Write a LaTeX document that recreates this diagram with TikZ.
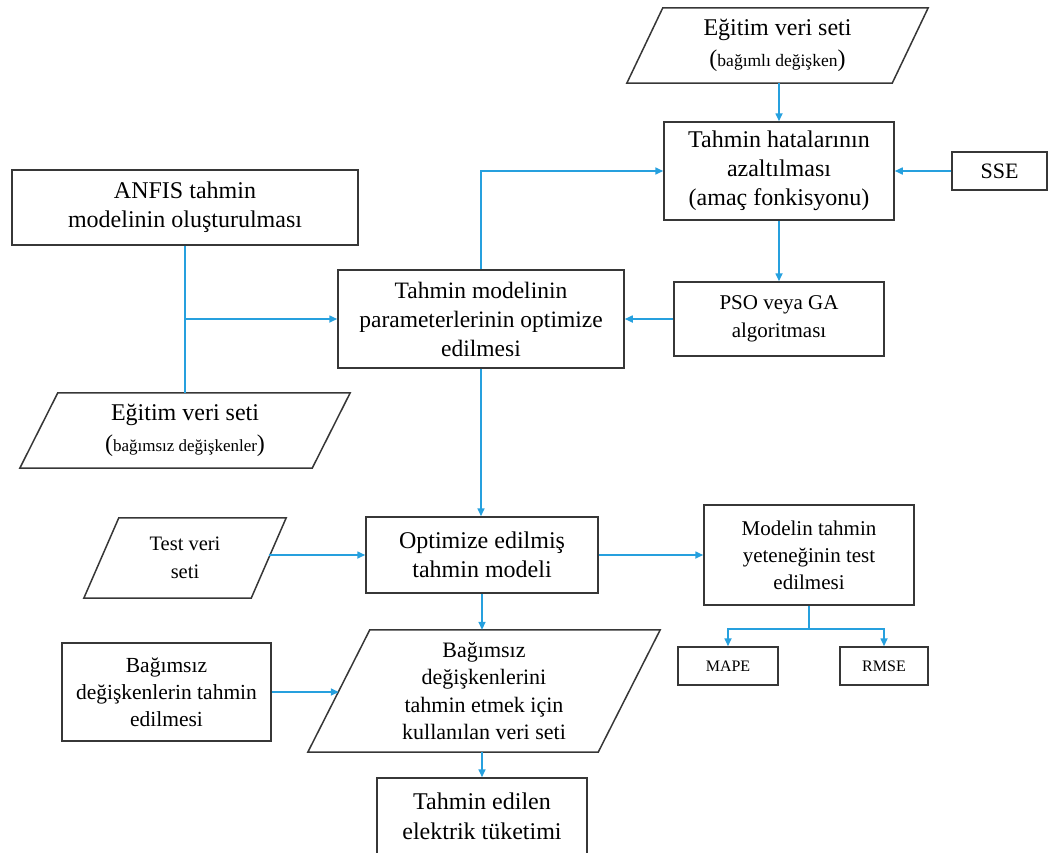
\documentclass[tikz,border=0pt]{standalone}
\usepackage{fontspec}
\setmainfont{Liberation Serif}
\usetikzlibrary{arrows.meta,calc}
\definecolor{flow}{RGB}{38,160,222}
\definecolor{frame}{RGB}{55,55,55}
\newcommand{\fs}[2]{\fontsize{#1}{#2}\selectfont}
% outline of a data (parallelogram) node: #1 node name, #2 horizontal slant
\newcommand{\slantframe}[2]{\draw[frameline] ([xshift=#2]#1.north west) -- (#1.north east) -- ([xshift=-#2]#1.south east) -- (#1.south west) -- cycle;}
\tikzset{
  frameline/.style={draw=frame, line width=1.5pt, line join=miter},
  box/.style={draw=frame, line width=1.5pt, rectangle, align=center, inner sep=0pt},
  slab/.style={rectangle, align=center, inner sep=0pt},
  link/.style={draw=flow, line width=1.6pt, -{Triangle[length=8pt,width=7pt]}},
  plain/.style={draw=flow, line width=1.6pt},
}
\begin{document}
\begin{tikzpicture}[x=1pt, y=-1pt]
\useasboundingbox (0,0) rectangle (1049,852);

% ---- training data (dependent variable) and objective ----
\node[slab, minimum width=301pt, minimum height=75pt, font=\fs{24}{31}] (p1) at (777.5,45.5)
  {Eğitim veri seti\\{\fs{24}{31}(}{\fs{17.5}{31}bağımlı değişken}{\fs{24}{31})}};
\slantframe{p1}{36pt}

\node[box, minimum width=230pt, minimum height=98pt, font=\fs{24}{29}] (hata) at (779,171)
  {Tahmin hatalarının\\azaltılması\\(amaç fonkisyonu)};

\node[box, minimum width=95pt, minimum height=38pt, font=\fs{22}{26}] (sse) at (999.5,171) {SSE};

% ---- model construction and optimisation ----
\node[box, minimum width=346pt, minimum height=75pt, font=\fs{24}{29}] (anfis) at (185,207.5)
  {ANFIS tahmin\\modelinin oluşturulması};

\node[box, minimum width=286pt, minimum height=98pt, font=\fs{23.5}{29}] (param) at (481,319)
  {Tahmin modelinin\\parameterlerinin optimize\\edilmesi};

\node[box, minimum width=210pt, minimum height=74pt, font=\fs{21}{28}] (pso) at (779,319)
  {PSO veya GA\\algoritması};

\node[slab, minimum width=330pt, minimum height=75pt, font=\fs{24}{31}] (p2) at (185,430.5)
  {Eğitim veri seti\\{\fs{24}{31}(}{\fs{17}{31}bağımsız değişkenler}{\fs{24}{31})}};
\slantframe{p2}{38pt}

% ---- testing ----
\node[slab, minimum width=202pt, minimum height=80pt, font=\fs{20.5}{28}] (test) at (185,558)
  {Test veri\\seti};
\slantframe{test}{35pt}

\node[box, minimum width=232pt, minimum height=76pt, font=\fs{24}{29}] (opt) at (482,555)
  {Optimize edilmiş\\tahmin modeli};

\node[box, minimum width=210pt, minimum height=100pt, font=\fs{21}{27}] (mod) at (809,555)
  {Modelin tahmin\\yeteneğinin test\\edilmesi};

\node[box, minimum width=100pt, minimum height=38pt, font=\fs{16}{20}] (mape) at (728,666) {MAPE};
\node[box, minimum width=88pt, minimum height=38pt, font=\fs{16}{20}] (rmse) at (884,666) {RMSE};

% ---- forecasting ----
\node[box, minimum width=209pt, minimum height=98pt, font=\fs{21.5}{27}] (bag) at (166.5,692)
  {Bağımsız\\değişkenlerin tahmin\\edilmesi};

\node[slab, minimum width=352pt, minimum height=122pt, font=\fs{22}{27.5}] (p3) at (484,691)
  {Bağımsız\\değişkenlerini\\tahmin etmek için\\kullanılan veri seti};
\slantframe{p3}{62pt}

\node[box, minimum width=210pt, minimum height=77pt, font=\fs{24}{30}] (fin) at (482,816.5)
  {Tahmin edilen\\elektrik tüketimi};

% ---- connectors ----
\draw[link] (hata.north |- p1.south) -- (hata.north);
\draw[link] (sse.west) -- (hata.east);
\draw[link] (param.north) |- (hata.west);
\draw[link] (hata.south) -- (hata.south |- pso.north);
\draw[link] (pso.west) -- (pso.west -| param.east);
\draw[plain] (anfis.south) -- (anfis.south |- p2.north);
\draw[link] (anfis.south |- param.west) -- (param.west);
\draw[link] (param.south) -- (param.south |- opt.north);
\draw[link] ([xshift=-17.5pt]test.east |- opt.west) -- (opt.west);
\draw[link] (opt.east) -- (opt.east -| mod.west);
\draw[link] (mod.south) -- ++(0,23) -| (mape.north);
\draw[link] (mod.south) ++(0,23) -| (rmse.north);
\draw[link] (opt.south) -- (opt.south |- p3.north);
\draw[link] (bag.east) -- ([xshift=31pt]p3.west |- bag.east);
\draw[link] (fin.north |- p3.south) -- (fin.north);
\end{tikzpicture}
\end{document}
